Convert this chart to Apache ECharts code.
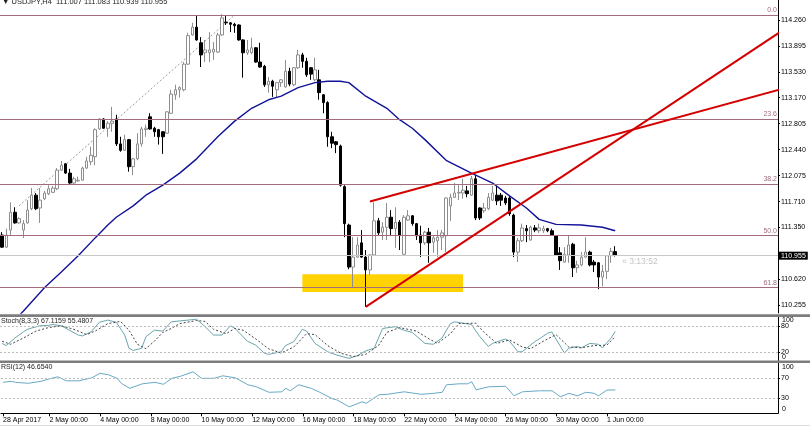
<!DOCTYPE html>
<html><head><meta charset="utf-8">
<script src="https://cdn.jsdelivr.net/npm/echarts@6/dist/echarts.min.js"></script>
<style>html,body{margin:0;padding:0;background:#fff}#c{width:810px;height:427px}</style>
</head><body><div id="c"></div>
<script>
// ---- data ----
const headerText = '\u25BC USDJPY,H4  111.007 111.083 110.939 110.955';
const stochLabel = 'Stoch(8,3,3) 67.1159 55.4807';
const rsiLabel = 'RSI(12) 46.6540';
const countdownText = '\u00AB 3:13:52';
const lastPrice = 110.955;

const xTickBars = [0, 11, 23, 35, 47, 59, 71, 83, 95, 107, 119, 131, 143];
const xTickLabels = ['28 Apr 2017', '2 May 00:00', '4 May 00:00', '8 May 00:00', '10 May 00:00', '12 May 00:00', '16 May 00:00', '18 May 00:00', '22 May 00:00', '24 May 00:00', '26 May 00:00', '30 May 00:00', '1 Jun 00:00'];
const priceTicks = [114.260, 113.895, 113.530, 113.170, 112.805, 112.440, 112.075, 111.710, 111.350, 110.620, 110.255];
const stochInnerTicks = [20, 80];
const rsiInnerTicks = [30, 70];
const edgeTicks = [0, 100];

const fibLevels = [114.33, 112.87, 111.96, 111.23, 110.50];
const fibNames = ['0.0', '23.6', '38.2', '50.0', '61.8'];

// [open, close, low, high] per H4 bar
const ohlc = [
[111.24,111.07,111.06,111.28],[111.07,111.24,111.06,111.33],[111.31,111.56,111.24,111.70],[111.56,111.41,111.40,111.63],
[111.41,111.47,111.40,111.49],[111.31,111.40,111.20,111.45],[111.41,111.59,111.40,111.73],[111.61,111.80,111.59,111.90],
[111.80,111.61,111.59,111.83],[111.62,111.73,111.41,111.90],[111.75,111.83,111.73,111.86],[111.82,111.89,111.80,111.94],
[111.84,111.90,111.83,111.93],[111.89,112.15,111.87,112.18],[112.15,112.22,112.14,112.28],[112.24,112.11,112.10,112.25],
[112.11,111.97,111.96,112.17],[111.97,112.03,111.96,112.06],[112.00,112.01,111.99,112.06],[112.01,112.18,112.00,112.20],
[112.18,112.28,112.17,112.34],[112.27,112.36,112.22,112.48],[112.34,112.72,112.22,112.74],[112.73,112.87,112.72,112.88],
[112.87,112.74,112.73,112.88],[112.74,112.81,112.62,112.84],[112.81,112.84,112.69,113.04],[112.87,112.52,112.49,112.93],
[112.52,112.43,112.41,112.62],[112.43,112.58,112.42,112.65],[112.58,112.20,112.13,112.59],[112.20,112.31,112.08,112.32],
[112.31,112.52,112.29,112.67],[112.52,112.73,112.48,112.76],[112.72,112.74,112.62,112.79],[112.90,112.73,112.72,112.95],
[112.74,112.69,112.62,112.76],[112.72,112.62,112.51,112.73],[112.69,112.62,112.38,112.70],[112.67,112.97,112.66,112.98],
[112.95,113.22,112.94,113.28],[113.21,113.28,113.14,113.35],[113.28,113.31,113.17,113.33],[113.28,113.64,113.26,113.67],
[113.64,114.04,113.63,114.08],[114.05,114.16,114.04,114.22],[114.16,113.98,113.97,114.32],[113.94,113.77,113.60,114.02],
[113.80,113.84,113.67,113.98],[113.80,113.84,113.67,114.09],[113.81,113.85,113.70,113.95],[113.81,114.05,113.80,114.08],
[114.05,114.29,114.04,114.34],[114.23,114.22,114.19,114.33],[114.22,114.20,114.09,114.23],[114.20,114.18,114.08,114.22],
[114.19,113.98,113.97,114.20],[113.98,113.80,113.45,113.99],[113.80,113.84,113.77,113.98],[113.80,113.87,113.78,114.01],
[113.87,113.67,113.66,113.88],[113.67,113.60,113.59,113.94],[113.61,113.35,113.32,113.63],[113.35,113.40,113.24,113.46],
[113.40,113.33,113.18,113.42],[113.28,113.38,113.17,113.39],[113.38,113.42,113.32,113.43],[113.32,113.54,113.31,113.70],
[113.54,113.36,113.33,113.59],[113.35,113.59,113.33,113.60],[113.59,113.77,113.57,113.84],[113.77,113.68,113.59,113.80],
[113.68,113.49,113.46,113.73],[113.59,113.50,113.42,113.60],[113.42,113.56,113.40,113.73],[113.42,113.24,113.14,113.56],
[113.21,113.10,112.95,113.22],[113.10,112.62,112.48,113.12],[112.62,112.53,112.46,112.69],[112.55,112.51,112.39,112.56],
[112.49,111.94,111.92,112.51],[111.92,111.40,111.21,111.94],[111.38,110.79,110.76,111.40],[110.79,110.93,110.51,111.21],
[110.93,111.10,110.92,111.21],[111.13,110.93,110.92,111.31],[110.93,110.75,110.23,111.03],[110.75,110.96,110.68,110.97],
[110.96,111.44,110.95,111.70],[111.44,111.27,111.24,111.48],[111.28,111.35,111.17,111.42],[111.35,111.49,111.17,111.69],
[111.49,111.33,111.24,111.59],[111.33,111.42,111.06,111.63],[111.42,111.24,111.03,111.45],[110.97,111.49,110.95,111.52],
[111.45,111.51,111.44,111.59],[111.51,111.40,111.37,111.52],[111.40,111.23,111.17,111.41],[111.24,111.13,110.93,111.37],
[111.13,111.28,111.10,111.30],[111.28,111.13,110.85,111.34],[111.14,111.20,110.99,111.24],[111.16,111.21,110.93,111.31],
[111.21,111.27,111.03,111.31],[111.23,111.76,111.00,111.77],[111.65,111.77,111.44,111.82],[111.77,111.83,111.76,111.97],
[111.83,111.84,111.73,111.94],[111.83,111.87,111.75,112.03],[111.86,111.82,111.77,111.93],[111.80,112.03,111.79,112.07],
[112.03,111.48,111.45,112.08],[111.62,111.48,111.45,111.63],[111.58,111.62,111.55,111.69],[111.61,111.77,111.59,111.83],
[111.73,111.83,111.72,111.93],[111.80,111.72,111.66,111.93],[111.80,111.73,111.65,111.83],[111.76,111.69,111.66,111.79],
[111.76,111.54,111.51,111.79],[111.52,111.00,110.93,111.54],[111.00,111.16,110.86,111.20],[111.16,111.34,111.14,111.40],
[111.33,111.30,111.14,111.38],[111.17,111.35,111.16,111.37],[111.34,111.31,111.28,111.38],[111.30,111.34,111.27,111.40],
[111.30,111.33,111.27,111.37],[111.33,111.30,111.28,111.34],[111.30,111.24,111.23,111.33],[111.23,110.96,110.95,111.24],
[110.99,110.88,110.75,111.07],[110.86,110.97,110.85,111.07],[110.96,111.10,110.85,111.23],[111.11,110.78,110.65,111.13],
[110.78,110.82,110.71,110.88],[110.82,110.93,110.80,111.00],[110.93,111.00,110.92,111.21],[111.00,110.82,110.80,111.02],
[110.86,110.82,110.72,110.89],[110.85,110.65,110.48,110.86],[110.65,110.73,110.52,110.82],[110.73,110.95,110.62,110.96],
[110.95,111.01,110.85,111.06],[111.007,110.955,110.939,111.083]
];
const emptyBarsRight = 38;

// moving average, [bar, price] read at points along the curve
const maPoints = [[0,109.86],[5,110.17],[10,110.50],[14,110.72],[18,110.95],[22,111.20],[25,111.38],[27,111.49],[31,111.65],[34,111.80],[38,111.94],[42,112.11],[46,112.31],[51,112.62],[55,112.84],[59,113.02],[63,113.14],[66,113.19],[70,113.31],[74,113.38],[77,113.40],[80,113.40],[82,113.38],[86,113.19],[91,113.02],[94,112.86],[97,112.74],[100,112.58],[105,112.29],[111,112.11],[116,111.97],[120,111.79],[124,111.62],[127,111.46],[131,111.39],[137,111.38],[142,111.35],[145,111.30]];

// drawn objects
const fibDiagonal = [[4,111.65],[55,114.33]];
const trendUpper = [[87,111.71],[185,113.30]];
const trendRising = [[86,110.23],[185,114.13]];
const zoneBars = [71, 109];
const zonePrices = [110.69, 110.44];

// oscillators, [bar, value]
const stochMain = [[0,40],[1,35],[3,52],[5,66],[6,72],[7,75],[9,80],[11,81],[12,83],[14,80],[18,59],[19,57],[21,66],[23,88],[25,93],[27,88],[29,59],[30,29],[31,24],[33,29],[34,55],[36,70],[38,68],[40,89],[44,93],[46,95],[48,78],[50,59],[52,59],[54,80],[55,75],[58,45],[60,36],[62,18],[63,15],[66,21],[67,35],[69,44],[71,72],[72,68],[74,40],[77,21],[79,14],[82,6],[84,12],[86,23],[88,29],[89,52],[90,74],[93,78],[95,70],[97,65],[100,40],[102,38],[104,52],[106,85],[107,89],[111,83],[113,55],[115,33],[116,40],[119,50],[120,45],[122,21],[123,21],[126,44],[127,50],[129,63],[130,66],[133,18],[134,29],[136,33],[137,30],[139,40],[141,38],[142,30],[144,52],[145,67.12]];
const stochSignal = [[0,45],[2,38],[5,52],[8,68],[11,76],[14,80],[17,72],[20,60],[22,68],[25,85],[28,90],[30,70],[32,38],[34,28],[36,45],[38,65],[40,74],[42,85],[46,92],[48,90],[50,72],[53,62],[55,74],[57,70],[60,50],[63,28],[66,18],[69,32],[72,62],[74,60],[77,35],[80,18],[83,10],[86,15],[89,35],[91,65],[94,76],[98,68],[101,50],[103,40],[106,62],[108,85],[112,86],[114,65],[117,40],[120,48],[123,32],[125,28],[128,45],[131,60],[134,32],[137,30],[140,35],[143,36],[145,55.48]];
const rsiPoints = [[0,62],[2,64],[3,62],[6,60],[9,64],[11,69],[13,73],[15,65],[18,65],[21,71],[23,80],[25,77],[27,70],[28,60],[30,50],[33,59],[36,62],[38,58],[40,70],[42,74],[45,83],[47,70],[50,70],[52,75],[55,71],[58,57],[60,53],[63,42],[66,43],[67,50],[68,45],[70,57],[73,50],[75,42],[78,29],[79,27],[82,13],[85,23],[86,20],[89,37],[91,38],[95,43],[99,38],[102,40],[104,42],[105,57],[108,59],[110,59],[111,63],[112,47],[115,53],[119,54],[121,35],[123,43],[127,45],[130,45],[132,33],[134,40],[136,35],[138,42],[140,40],[141,35],[143,46.5],[145,46.65]];
const stochLevels = [80, 20];
const rsiLevels = [70, 30];

// ---- chart ----
const FONT = 'Liberation Sans';
const nBars = ohlc.length + emptyBarsRight;
const categories = [];
for (let i = 0; i < nBars; i++) categories.push(String(i));
const tickSet = new Set(xTickBars);
const tickMap = {};
xTickBars.forEach((b, i) => { tickMap[String(b)] = xTickLabels[i]; });

const gridL = 0, gridW = 778;
const grids = [
  {left: gridL, top: 0, width: gridW, height: 313},
  {left: gridL, top: 317, width: gridW, height: 44},
  {left: gridL, top: 363.3, width: gridW, height: 50}
];
function xAx(gi, show) {
  return {
    type: 'category', gridIndex: gi, data: categories, boundaryGap: true,
    axisLine: {show: show, lineStyle: {color: '#000', width: 1}},
    axisTick: {show: show, alignWithLabel: true, length: 3, interval: (i) => tickSet.has(i), lineStyle: {color: '#000'}},
    axisLabel: {show: show, interval: (i) => tickSet.has(i), formatter: (v) => tickMap[v] || '',
      align: 'left', margin: 3, fontSize: 7, color: '#000', fontFamily: FONT},
    splitLine: {show: false}
  };
}
function yAx(gi, min, max, ticks, fmt) {
  return {
    type: 'value', gridIndex: gi, position: 'right', min: min, max: max,
    axisLine: {show: true, lineStyle: {color: '#000', width: 1}},
    axisTick: {show: true, customValues: ticks, length: 2, lineStyle: {color: '#000'}},
    axisLabel: {customValues: ticks, margin: 3, fontSize: 7, color: '#000', fontFamily: FONT,
      showMinLabel: true, showMaxLabel: true, formatter: fmt},
    splitLine: {show: false}
  };
}
// separate axis on the stochastic panel carrying only the 0 / 100 edge labels, drawn inward like MT4
function edgeAx(gi) {
  return {
    type: 'value', gridIndex: gi, position: 'right', min: 0, max: 100,
    axisLine: {show: false}, axisTick: {show: false}, splitLine: {show: false},
    axisLabel: {
      customValues: edgeTicks, margin: 4, fontSize: 7, color: '#000', fontFamily: FONT,
      showMinLabel: true, showMaxLabel: true, hideOverlap: false,
      verticalAlignMinLabel: 'bottom', verticalAlignMaxLabel: 'top',
      formatter: (v) => String(v)
    }
  };
}

// RSI 0 / 100 edge labels at the RSI panel's top and bottom edges, drawn inward like MT4
const rsiGrid = grids[2];
const rsiEdgeGraphics = edgeTicks.map(v => ({
  id: 'rsiEdge' + v, type: 'text', x: gridL + gridW + 4,
  y: v === 100 ? rsiGrid.top + 0.5 : rsiGrid.top + rsiGrid.height - 0.5, z: 100,
  style: {text: String(v), fontSize: 7, fontFamily: FONT, fill: '#000',
    align: 'left', verticalAlign: v === 100 ? 'top' : 'bottom'}
}));

const fibColor = '#a26c7c';
const option = {
  animation: false,
  backgroundColor: '#fff',
  grid: grids,
  xAxis: [xAx(0, false), xAx(1, false), xAx(2, true)],
  yAxis: [
    yAx(0, 110.145, 114.541, priceTicks, (v) => v.toFixed(3)),
    yAx(1, 0, 100, stochInnerTicks, (v) => String(v)),
    yAx(2, 0, 100, rsiInnerTicks, (v) => String(v)),
    edgeAx(1)
  ],
  series: [
    {
      name: 'objects', type: 'line', xAxisIndex: 0, yAxisIndex: 0, data: [], z: 1, silent: true,
      markArea: {silent: true, itemStyle: {color: '#FFD200', opacity: 1},
        data: [[{coord: [zoneBars[0], zonePrices[0]]}, {coord: [zoneBars[1], zonePrices[1]]}]]},
      markLine: {
        silent: true, symbol: ['none', 'none'],
        data: fibLevels.map((v, i) => ({
          yAxis: v,
          lineStyle: {color: fibColor, width: 1, type: 'solid'},
          label: {show: true, position: 'insideEndTop', formatter: fibNames[i], color: fibColor,
            fontSize: 7, fontFamily: FONT, distance: [1, 1]}
        })).concat([{
          yAxis: lastPrice,
          lineStyle: {color: '#c8c8c8', width: 1, type: 'solid'},
          label: {show: true, position: 'end', formatter: lastPrice.toFixed(3), color: '#fff',
            backgroundColor: '#000', padding: [1, 2, 0, 2], fontSize: 7, fontFamily: FONT, distance: 1}
        }])
      },
      markPoint: {
        silent: true,
        data: [{coord: [String(ohlc.length + 1), lastPrice], symbol: 'circle', symbolSize: 1,
          itemStyle: {color: 'rgba(0,0,0,0)'},
          label: {show: true, position: 'right', formatter: countdownText, color: '#c4c4c4',
            fontSize: 8.5, fontFamily: FONT, offset: [-7, 6]}}]
      }
    },
    {
      name: 'USDJPY', type: 'candlestick', xAxisIndex: 0, yAxisIndex: 0, data: ohlc, z: 3,
      barWidth: 3,
      itemStyle: {color: '#ffffff', color0: '#000000', borderColor: '#8e8e8e', borderColor0: '#000000', borderWidth: 1}
    },
    {
      name: 'MA', type: 'line', xAxisIndex: 0, yAxisIndex: 0, data: maPoints, z: 4,
      showSymbol: false, smooth: false, clip: true,
      lineStyle: {color: '#12129a', width: 1.4}
    },
    {
      name: 'fibline', type: 'line', xAxisIndex: 0, yAxisIndex: 0, data: fibDiagonal, z: 2,
      showSymbol: false, lineStyle: {color: '#9a9a9a', width: 1, type: [2, 2]}
    },
    {
      name: 'trendUpper', type: 'line', xAxisIndex: 0, yAxisIndex: 0, data: trendUpper, z: 6,
      showSymbol: false, clip: true, lineStyle: {color: '#d40000', width: 2}
    },
    {
      name: 'trendRising', type: 'line', xAxisIndex: 0, yAxisIndex: 0, data: trendRising, z: 6,
      showSymbol: false, clip: true, lineStyle: {color: '#d40000', width: 2}
    },
    {
      name: 'stoch', type: 'line', xAxisIndex: 1, yAxisIndex: 1, data: stochMain, z: 3,
      showSymbol: false, lineStyle: {color: '#6aa5ad', width: 1},
      markLine: {silent: true, symbol: ['none', 'none'], label: {show: false},
        data: stochLevels.map(v => ({yAxis: v})),
        lineStyle: {color: '#bdbdbd', width: 1, type: [2, 2]}}
    },
    {
      name: 'signal', type: 'line', xAxisIndex: 1, yAxisIndex: 1, data: stochSignal, z: 3,
      showSymbol: false, lineStyle: {color: '#444', width: 1, type: [2, 2]}
    },
    {
      name: 'rsi', type: 'line', xAxisIndex: 2, yAxisIndex: 2, data: rsiPoints, z: 3,
      showSymbol: false, lineStyle: {color: '#68aac6', width: 1},
      markLine: {silent: true, symbol: ['none', 'none'], label: {show: false},
        data: rsiLevels.map(v => ({yAxis: v})),
        lineStyle: {color: '#bdbdbd', width: 1, type: [2, 2]}}
    }
  ],
  graphic: [
    {id: 'sep1', type: 'rect', shape: {x: 0, y: 314.3, width: 810, height: 2.6}, style: {fill: '#7d7d7d'}, z: 50},
    {id: 'sep2', type: 'rect', shape: {x: 0, y: 360.4, width: 810, height: 2.6}, style: {fill: '#7d7d7d'}, z: 50},
    {id: 'bottomLine', type: 'line', shape: {x1: 0, y1: 425.5, x2: 810, y2: 425.5}, style: {stroke: '#dcdcdc', lineWidth: 1}, z: 50},
    {id: 'header', type: 'text', x: 2, y: -2.5, z: 60, style: {text: headerText, fontSize: 7.5, fontFamily: FONT, fill: '#222'}},
    {id: 'stochName', type: 'text', x: 1, y: 317.5, z: 60, style: {text: stochLabel, fontSize: 7, fontFamily: FONT, fill: '#222'}},
    {id: 'rsiName', type: 'text', x: 1, y: 363.8, z: 60, style: {text: rsiLabel, fontSize: 7, fontFamily: FONT, fill: '#222'}}
  ].concat(rsiEdgeGraphics)
};
const chart = echarts.init(document.getElementById('c'), null, {renderer: 'canvas'});
chart.setOption(option);
</script></body></html>
